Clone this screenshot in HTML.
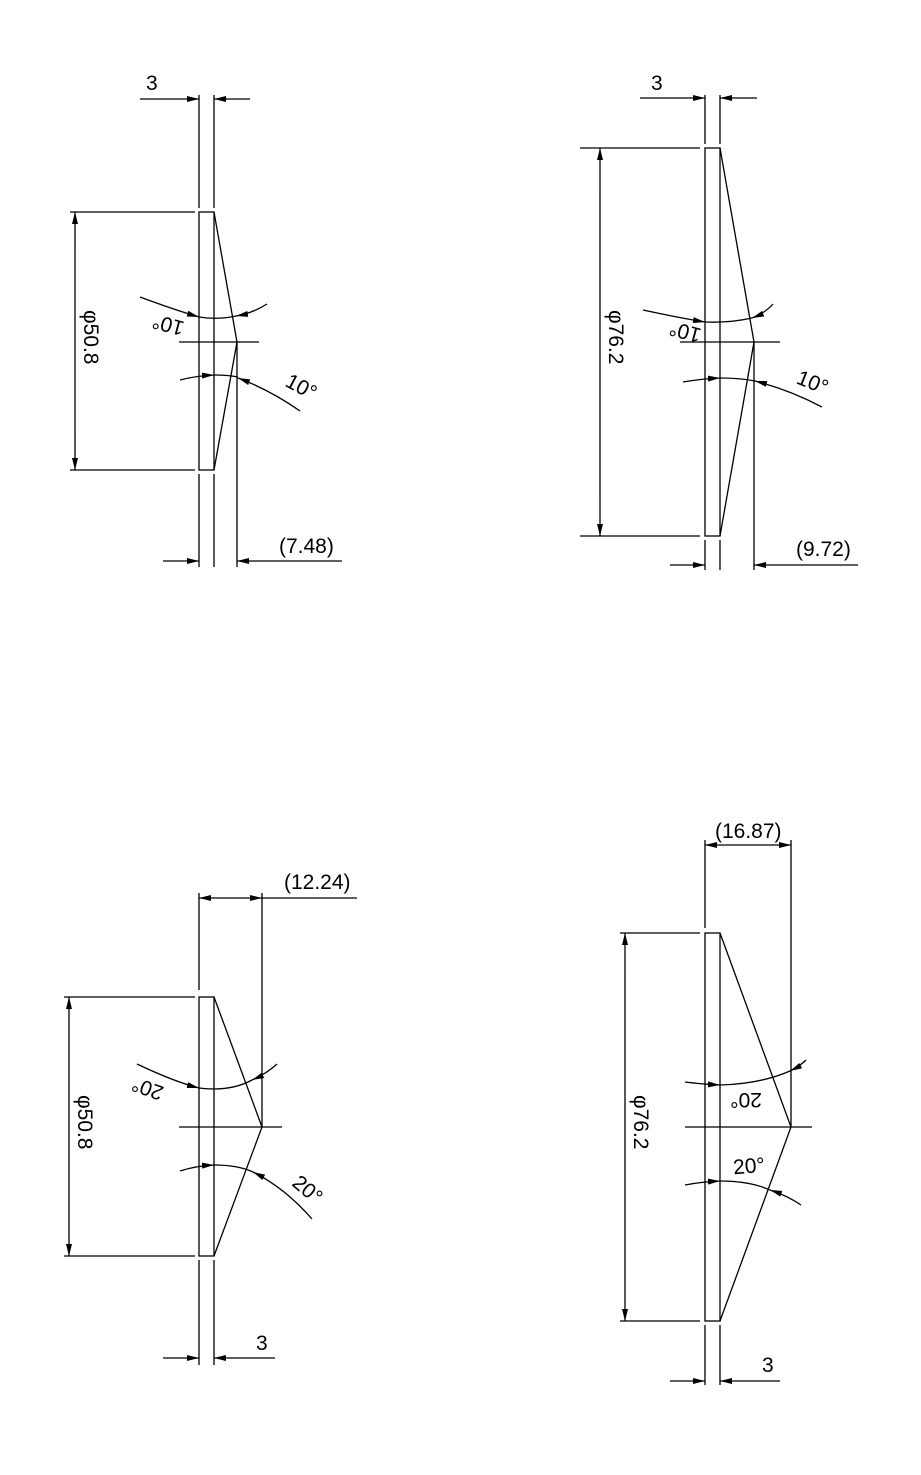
<!DOCTYPE html>
<html><head><meta charset="utf-8"><style>
html,body{margin:0;padding:0;background:#fff;}
svg{display:block}
text{font-family:"Liberation Sans",sans-serif;font-size:21px;fill:#000;}
</style></head><body>
<svg width="921" height="1475" viewBox="0 0 921 1475" xmlns="http://www.w3.org/2000/svg">
<defs>
<marker id="a" viewBox="0 0 12 6" refX="12" refY="3" markerWidth="12" markerHeight="6" markerUnits="userSpaceOnUse" orient="auto"><path d="M0,0 L12,3 L0,6 Z" fill="#000"/></marker>
</defs>
<g stroke="#000" stroke-width="1.3" fill="none">
<!-- TL -->
<rect x="199" y="212" width="15" height="258"/>
<path d="M214,212 L237,342 L214,470"/>
<path d="M199,95 V208 M214,95 V208 M199,474 V567 M214,474 V567 M237,342 V567"/>
<path d="M179,342 H259"/>
<path d="M70,212 H195 M70,470 H195"/>
<path d="M75,250 V212" marker-end="url(#a)"/><path d="M75,430 V470" marker-end="url(#a)"/><path d="M75,250 V430"/>
<path d="M140,99 H199" marker-end="url(#a)"/><path d="M250,99 H214" marker-end="url(#a)"/>
<path d="M163,561 H199" marker-end="url(#a)"/><path d="M342,561 H237" marker-end="url(#a)"/>
<path d="M140,297 Q175,310 199,317" marker-end="url(#a)"/><path d="M199,317 Q218,320 236,316"/><path d="M267,304 Q253,313 236,316" marker-end="url(#a)"/>
<path d="M180,380 Q195,376 214,375" marker-end="url(#a)"/><path d="M214,375 Q228,375 238,377"/><path d="M300,411 Q270,390 238,378" marker-end="url(#a)"/>
<!-- TR -->
<rect x="705" y="148" width="15" height="388"/>
<path d="M720,148 L754,342 L720,536"/>
<path d="M705,95 V144 M720,95 V144 M705,540 V570 M720,540 V570 M754,342 V570"/>
<path d="M680,342 H780"/>
<path d="M580,148 H700 M580,536 H700"/>
<path d="M600,190 V148" marker-end="url(#a)"/><path d="M600,495 V536" marker-end="url(#a)"/><path d="M600,190 V495"/>
<path d="M640,98 H705" marker-end="url(#a)"/><path d="M757,98 H720" marker-end="url(#a)"/>
<path d="M670,565 H705" marker-end="url(#a)"/><path d="M858,565 H754" marker-end="url(#a)"/>
<path d="M643,310 Q680,318 705,322" marker-end="url(#a)"/><path d="M705,322 Q730,323 752,318"/><path d="M773,304 Q765,313 752,318" marker-end="url(#a)"/>
<path d="M683,382 Q700,379 720,378" marker-end="url(#a)"/><path d="M720,378 Q740,378 755,381"/><path d="M822,407 Q790,390 755,381" marker-end="url(#a)"/>
<!-- BL -->
<rect x="199" y="997" width="15" height="259"/>
<path d="M214,997 L262,1127 L214,1256"/>
<path d="M199,893 V990 M262,893 V1127 M199,1260 V1365 M214,1260 V1365"/>
<path d="M179,1127 H282"/>
<path d="M64,997 H195 M64,1256 H195"/>
<path d="M69,1040 V997" marker-end="url(#a)"/><path d="M69,1215 V1256" marker-end="url(#a)"/><path d="M69,1040 V1215"/>
<path d="M230,898 H199" marker-end="url(#a)"/><path d="M230,898 H262" marker-end="url(#a)"/><path d="M262,898 H357"/>
<path d="M163,1358 H199" marker-end="url(#a)"/><path d="M275,1358 H214" marker-end="url(#a)"/>
<path d="M137,1064 Q175,1082 199,1088" marker-end="url(#a)"/><path d="M199,1088 Q230,1092 252,1080"/><path d="M277,1064 Q266,1074 252,1080" marker-end="url(#a)"/>
<path d="M180,1171 Q195,1166 214,1165" marker-end="url(#a)"/><path d="M214,1165 Q238,1165 253,1172"/><path d="M312,1219 Q285,1188 253,1172" marker-end="url(#a)"/>
<!-- BR -->
<rect x="705" y="933" width="15" height="388"/>
<path d="M720,933 L791,1127 L720,1321"/>
<path d="M705,840 V928 M791,840 V1127 M705,1325 V1385 M720,1325 V1385"/>
<path d="M685,1127 H812"/>
<path d="M620,933 H700 M620,1321 H700"/>
<path d="M625,975 V933" marker-end="url(#a)"/><path d="M625,1280 V1321" marker-end="url(#a)"/><path d="M625,975 V1280"/>
<path d="M748,845 H705" marker-end="url(#a)"/><path d="M748,845 H791" marker-end="url(#a)"/>
<path d="M670,1381 H705" marker-end="url(#a)"/><path d="M780,1381 H720" marker-end="url(#a)"/>
<path d="M685,1082 Q700,1084 720,1085" marker-end="url(#a)"/><path d="M720,1085 Q760,1084 790,1071"/><path d="M806,1060 Q800,1066 790,1071" marker-end="url(#a)"/>
<path d="M685,1185 Q700,1182 720,1181" marker-end="url(#a)"/><path d="M720,1181 Q750,1181 770,1190"/><path d="M801,1205 Q788,1196 770,1190" marker-end="url(#a)"/>
</g>
<!-- text -->
<text x="146" y="90">3</text>
<text x="651" y="90">3</text>
<text x="256" y="1350">3</text>
<text x="762" y="1372">3</text>
<text x="279" y="553">(7.48)</text>
<text x="796" y="556">(9.72)</text>
<text x="284" y="889">(12.24)</text>
<text x="715" y="838">(16.87)</text>
<text transform="translate(84,310) rotate(90)">φ50.8</text>
<text transform="translate(609,310) rotate(90)">φ76.2</text>
<text transform="translate(78,1095) rotate(90)">φ50.8</text>
<text transform="translate(634,1095) rotate(90)">φ76.2</text>
<text transform="translate(170,318) rotate(195)" text-anchor="middle">10°</text>
<text transform="translate(687,325) rotate(195)" text-anchor="middle">10°</text>
<text transform="translate(298,393) rotate(28)" text-anchor="middle">10°</text>
<text transform="translate(810,389) rotate(22)" text-anchor="middle">10°</text>
<text transform="translate(150,1082) rotate(200)" text-anchor="middle">20°</text>
<text transform="translate(303,1195) rotate(40)" text-anchor="middle">20°</text>
<text transform="translate(746,1093) rotate(180)" text-anchor="middle">20°</text>
<text x="749" y="1173" text-anchor="middle" transform="rotate(-5 749 1166)">20°</text>
</svg>
</body></html>
